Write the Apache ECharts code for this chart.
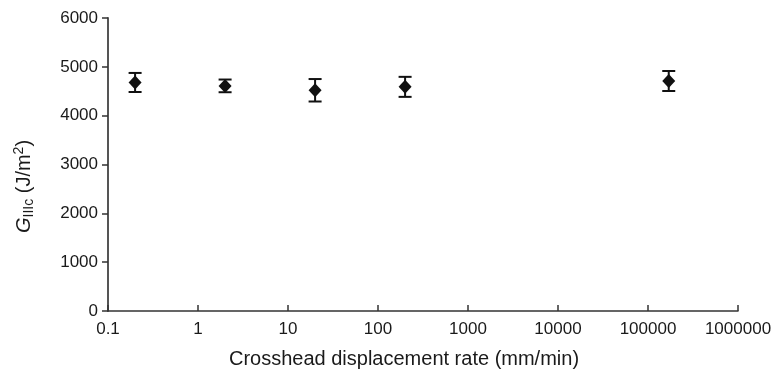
<!DOCTYPE html>
<html>
<head>
<meta charset="utf-8">
<script src="https://cdn.jsdelivr.net/npm/echarts@6/dist/echarts.min.js"></script>
<style>
  html, body { margin: 0; padding: 0; background: #fff; }
  #chart { width: 780px; height: 384px; }
</style>
</head>
<body>
<div id="chart"></div>
<script>
// crosshead displacement rate (mm/min) and G_IIIc (J/m^2)
const rates = [0.2, 2, 20, 200, 170000];
const means = [4680, 4610, 4520, 4590, 4710];
const errs = [195, 130, 230, 205, 205];
const yTicks = { min: 0, max: 6000, step: 1000 };
const xRange = { min: 0.1, max: 1000000 };

const font = "'Liberation Sans', Arial, sans-serif";
const ink = "#1a1a1a";

const chart = echarts.init(document.getElementById("chart"));

chart.setOption({
  backgroundColor: "#fff",
  animation: false,
  grid: { left: 108, right: 42, top: 18, bottom: 73 },
  xAxis: {
    type: "log",
    logBase: 10,
    min: xRange.min,
    max: xRange.max,
    name: "Crosshead displacement rate (mm/min)",
    nameLocation: "middle",
    nameGap: 38,
    nameTextStyle: { fontFamily: font, fontSize: 20, color: ink, padding: [0, 38, 0, 0] },
    axisLine: { lineStyle: { color: "#333", width: 1.5 } },
    axisTick: { inside: true, length: 6, lineStyle: { color: "#333", width: 1.5 } },
    minorTick: { show: false },
    splitLine: { show: false },
    axisLabel: {
      fontFamily: font,
      fontSize: 17,
      color: ink,
      margin: 10,
      formatter: (v) => String(parseFloat(v.toPrecision(6))),
    },
  },
  yAxis: {
    type: "value",
    min: yTicks.min,
    max: yTicks.max,
    interval: yTicks.step,
    name: "{g|G}{sub|IIIc} (J/m{sup|2})",
    nameLocation: "middle",
    nameGap: 72,
    nameTextStyle: {
      fontFamily: font,
      fontSize: 20,
      color: ink,
      padding: [0, 44, 0, 0],
      rich: {
        g: { fontFamily: font, fontSize: 20, fontStyle: "italic", color: ink },
        sub: { fontFamily: font, fontSize: 14, color: ink, verticalAlign: "bottom", padding: [10, 0, 0, 0] },
        sup: { fontFamily: font, fontSize: 14, color: ink, verticalAlign: "top", padding: [0, 0, 7, 0] },
      },
    },
    axisLine: { show: true, lineStyle: { color: "#555", width: 2 } },
    axisTick: { show: true, length: 6, lineStyle: { color: "#333", width: 1.5 } },
    splitLine: { show: false },
    axisLabel: {
      fontFamily: font,
      fontSize: 17,
      color: ink,
      margin: 10,
      formatter: (v) => String(v),
    },
  },
  series: [
    {
      type: "custom",
      name: "error",
      data: rates.map((r, i) => [r, means[i] - errs[i], means[i] + errs[i]]),
      encode: { x: 0, y: [1, 2] },
      renderItem: (params, api) => {
        const lo = api.coord([api.value(0), api.value(1)]);
        const hi = api.coord([api.value(0), api.value(2)]);
        const w = 6.5;
        const style = { stroke: "#111", lineWidth: 2 };
        return {
          type: "group",
          children: [
            { type: "line", shape: { x1: lo[0], y1: lo[1], x2: hi[0], y2: hi[1] }, style },
            { type: "line", shape: { x1: hi[0] - w, y1: hi[1], x2: hi[0] + w, y2: hi[1] }, style },
            { type: "line", shape: { x1: lo[0] - w, y1: lo[1], x2: lo[0] + w, y2: lo[1] }, style },
          ],
        };
      },
      z: 2,
    },
    {
      type: "scatter",
      data: rates.map((r, i) => [r, means[i]]),
      symbol: "diamond",
      symbolSize: [13, 14],
      itemStyle: { color: "#111", opacity: 1 },
      z: 3,
    },
  ],
});
</script>
</body>
</html>
